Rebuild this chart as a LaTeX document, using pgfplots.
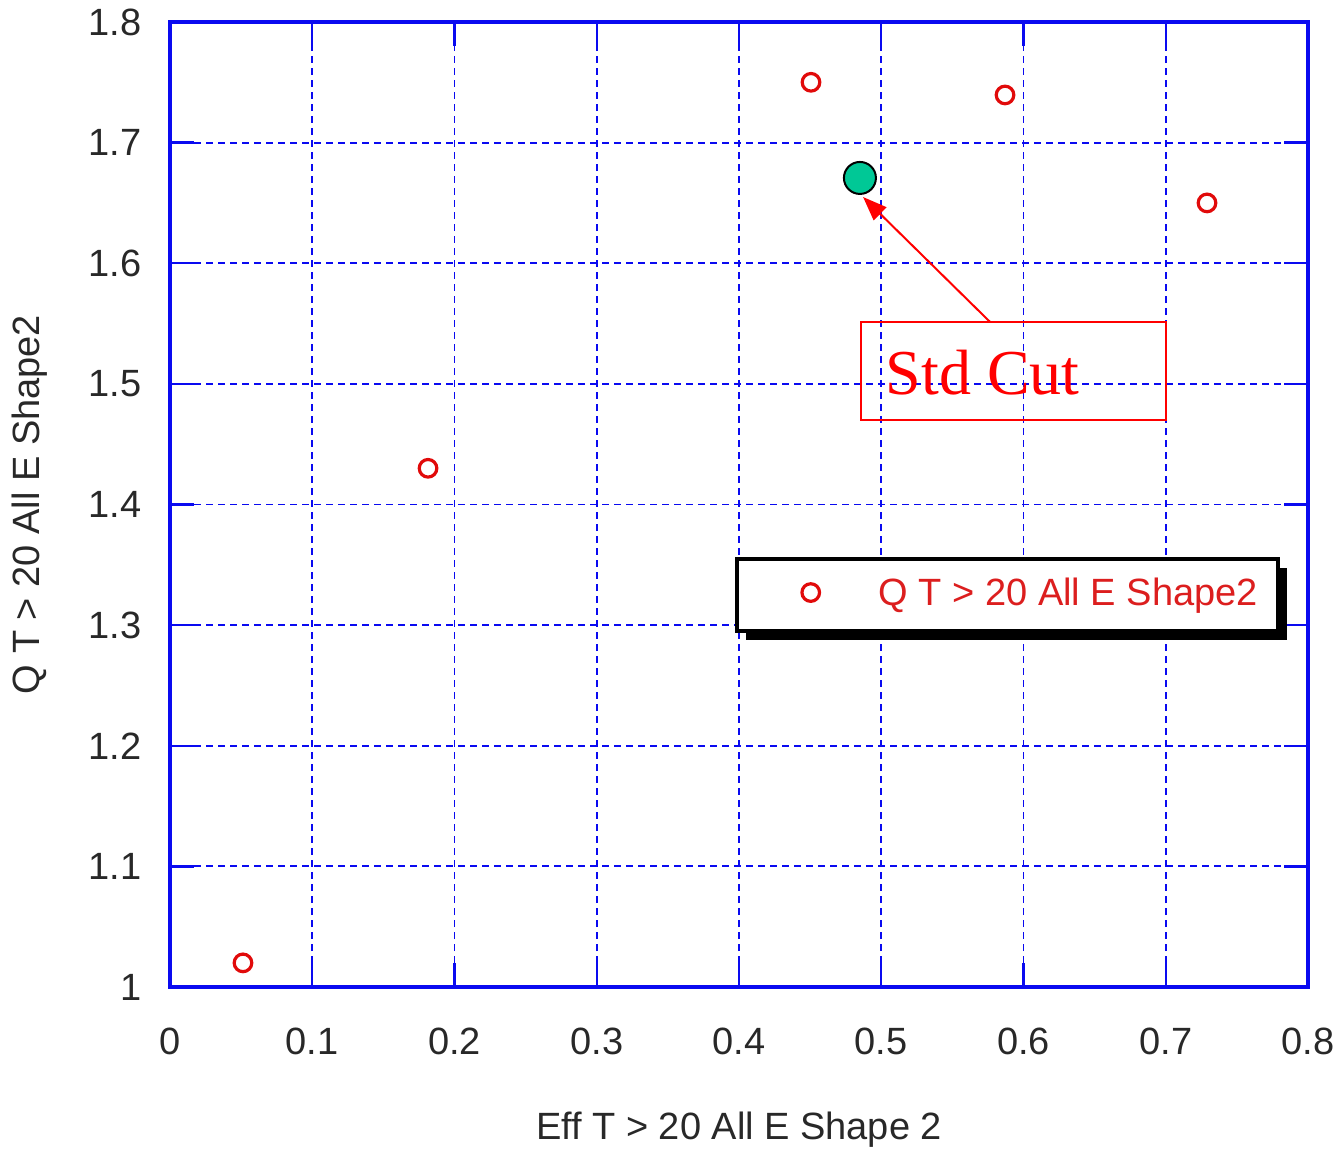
\documentclass[border=0pt]{standalone}
\usepackage{pgfplots}
\pgfplotsset{compat=1.18}
\usepackage{fontspec}
\setmainfont{Liberation Sans}
\newfontfamily\seriffont{Liberation Serif}
\usetikzlibrary{shadows,arrows.meta}
\definecolor{axblue}{RGB}{10,10,240}
\definecolor{markred}{RGB}{225,10,10}
\definecolor{legred}{RGB}{220,30,30}
\definecolor{stdgreen}{RGB}{0,200,150}
\definecolor{labgray}{RGB}{40,40,40}
\begin{document}
\begin{tikzpicture}
\begin{axis}[
  scale only axis, width=284.5pt, height=241.25pt,
  xmin=0, xmax=0.8, ymin=1, ymax=1.8,
  xtick={0,0.1,0.2,0.3,0.4,0.5,0.6,0.7,0.8},
  ytick={1,1.1,1.2,1.3,1.4,1.5,1.6,1.7,1.8},
  axis line style={axblue, line width=0.8pt},
  tick style={axblue, line width=0.6pt},
  tick align=inside, major tick length=6pt,
  grid=major,
  major grid style={axblue, line width=0.45pt, dash pattern=on 1.8pt off 1.2pt},
  tick label style={font=\fontsize{9.5}{11.5}\selectfont, text=labgray},
  /pgf/number format/assume math mode=true,
  xticklabel style={yshift=-6.6pt},
  yticklabel style={xshift=-3.6pt},
  xlabel={Eff T > 20 All E Shape 2},
  ylabel={Q T > 20 All E Shape2},
  x label style={at={(axis description cs:0.5,-0.148)}, anchor=center, font=\fontsize{9.5}{11.5}\selectfont, text=labgray},
  y label style={at={(axis description cs:-0.123,0.5)}, anchor=center, font=\fontsize{9.5}{11.5}\selectfont, text=labgray},
  legend style={at={(axis cs:0.397,1.3565)}, anchor=north west, draw=black, line width=1pt, fill=white,
    drop shadow={shadow xshift=2.2pt, shadow yshift=-2.2pt, fill=black, opacity=1},
    inner xsep=3pt, inner ysep=2.8pt, font=\fontsize{9.5}{11.5}\selectfont,
    nodes={text=legred}},
  legend image code/.code={\path (0pt,0pt) (29.5pt,0pt); \draw[#1] plot coordinates {(15pt,0.6pt)};},
]
\addplot[only marks, mark=o, mark size=2.2pt, color=markred, mark options={line width=0.8pt}]
  coordinates {(0.0513,1.020) (0.1814,1.430) (0.4506,1.750) (0.587,1.7395) (0.729,1.650)};
\addlegendentry{Q T > 20 All E Shape2}
\addplot[only marks, mark=*, mark size=4pt, mark options={fill=stdgreen, draw=black, line width=0.5pt}, forget plot]
  coordinates {(0.485,1.6707)};
\draw[red, line width=0.5pt] (axis cs:0.4858,1.470) rectangle (axis cs:0.7002,1.5513);
\node[anchor=base west, inner sep=0pt, text=red, font=\seriffont\fontsize{16}{19}\selectfont] at (axis cs:0.5026,1.4908) {Std Cut};
\draw[red, line width=0.5pt, -{Triangle[length=6pt,width=4.5pt]}] (axis cs:0.5765,1.5513) -- (axis cs:0.4872,1.6549);
\end{axis}
\path (current axis.south west) ++(-42.5pt,-41.25pt) coordinate (bbsw);
\path (current axis.north east) ++(8.5pt,5.5pt) coordinate (bbne);
\pgfresetboundingbox
\path[use as bounding box] (bbsw) rectangle (bbne);
\end{tikzpicture}
\end{document}
